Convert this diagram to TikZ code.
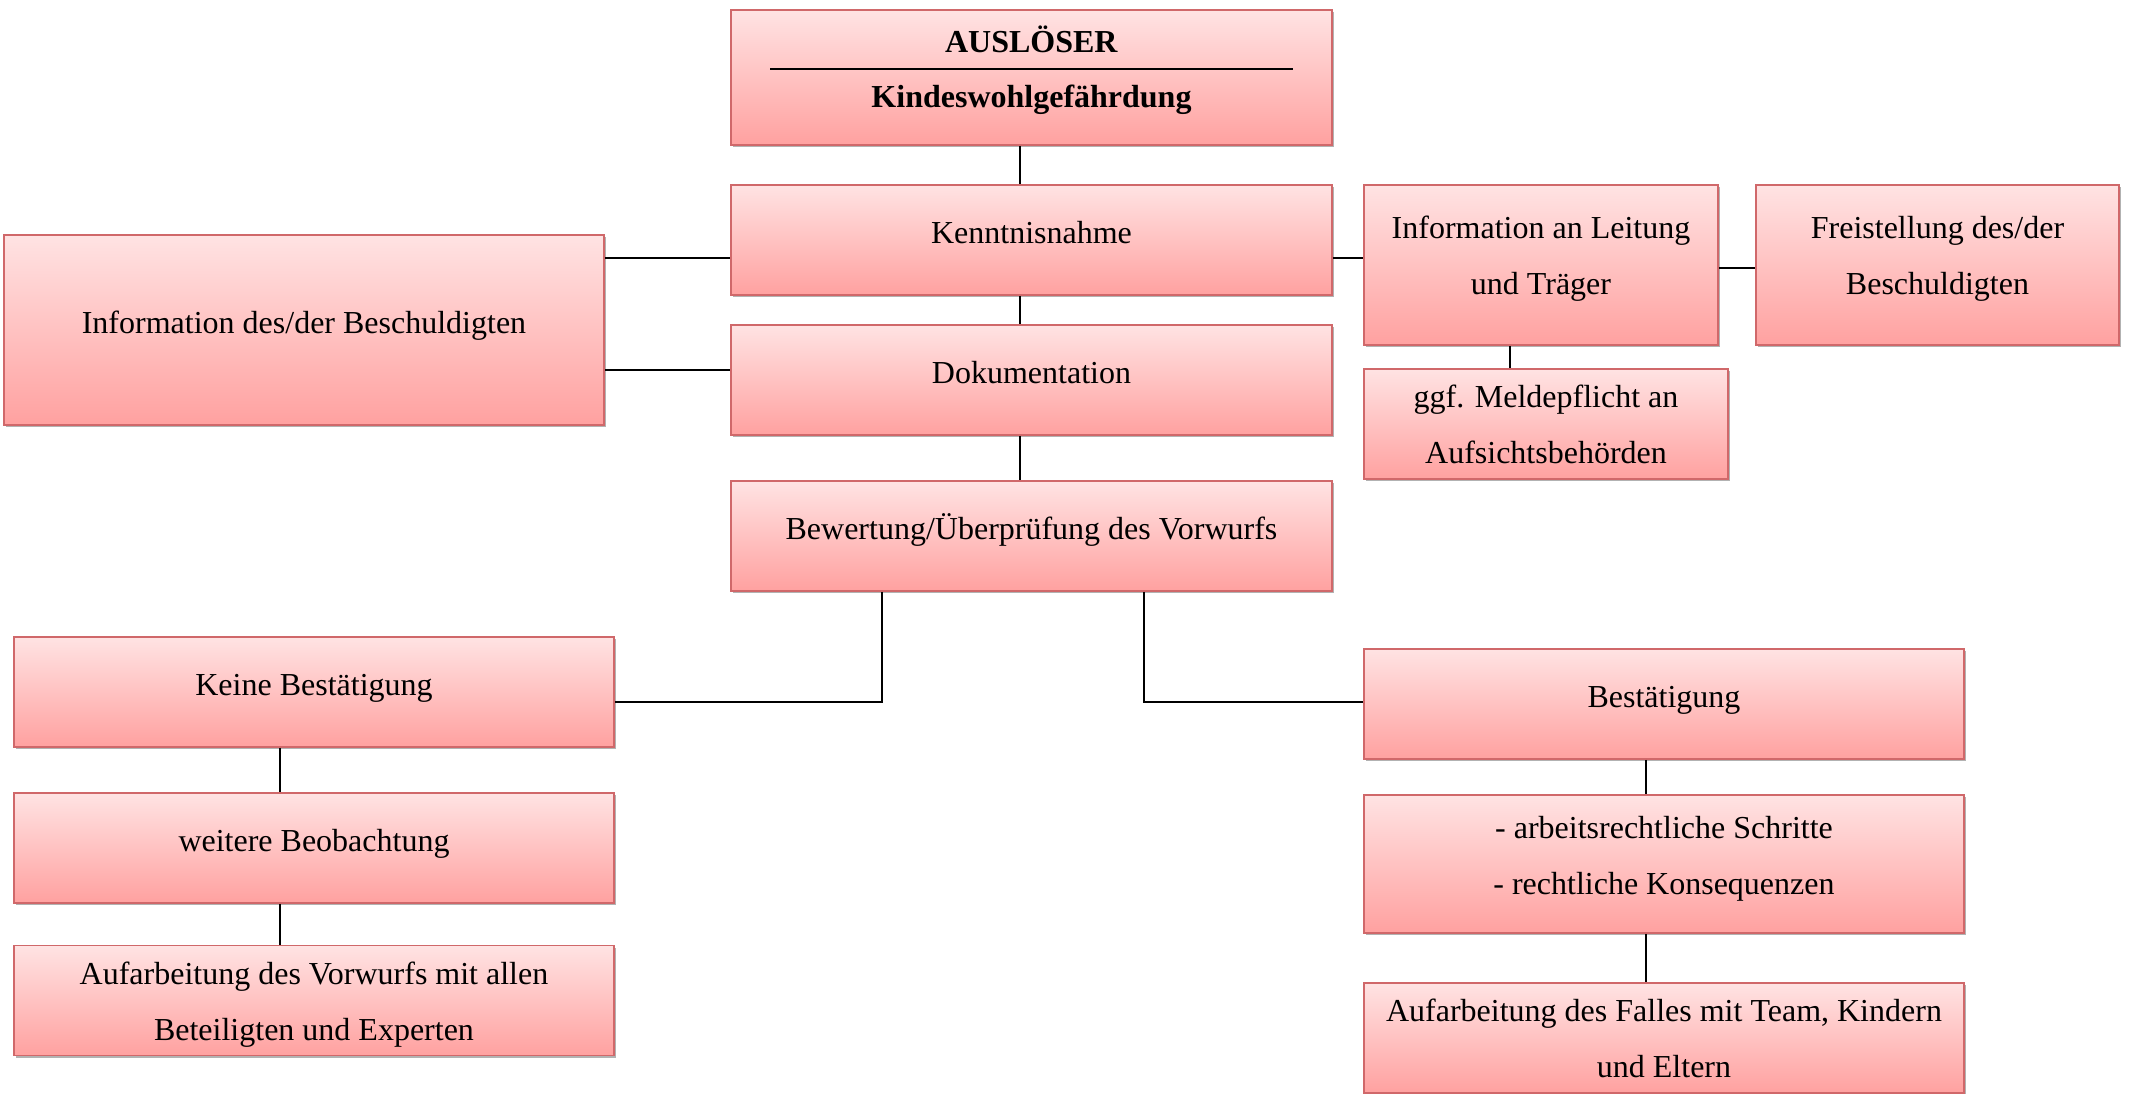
\documentclass[tikz,border=0pt]{standalone}
\usepackage{fontspec}
\setmainfont{Liberation Serif}
\usetikzlibrary{shadows,calc}
\definecolor{pktop}{HTML}{FFE3E3}
\definecolor{pkbot}{HTML}{FFA1A0}
\definecolor{pkline}{HTML}{D0686A}
\begin{document}
\begin{tikzpicture}[x=0.5pt,y=-0.5pt,
  box/.style={draw=pkline, line width=0.8pt, top color=pktop, bottom color=pkbot,
    inner sep=0pt, align=center, font=\fontsize{16}{28}\selectfont,
    text height=10.6pt, text depth=7.6pt,
    drop shadow={shadow xshift=0.8pt, shadow yshift=-1.2pt, opacity=0.3, fill=black}},
  twoline/.style={text height=44pt, text depth=#1},
  con/.style={line width=0.9pt, black}]
\useasboundingbox (0,0) rectangle (2130,1093);

% boxes
\node[box, minimum width=300.5pt, minimum height=67.5pt, twoline=14.5pt] (ausl) at (1031.5,77.5)
  {\textbf{AUSLÖSER}\\[-0.5pt]\textbf{Kindeswohlgefährdung}};
\node[box, minimum width=300.5pt, minimum height=55pt] (kenn) at (1031.5,240) {Kenntnisnahme};
\node[box, minimum width=300.5pt, minimum height=55pt] (doku) at (1031.5,380) {Dokumentation};
\node[box, minimum width=300.5pt, minimum height=55pt] (bew) at (1031.5,536) {Bewertung/Überprüfung des Vorwurfs};
\node[box, minimum width=300pt, minimum height=95pt] (besch) at (304,330) {Information des/der Beschuldigten};
\node[box, minimum width=177pt, minimum height=80pt, twoline=15pt] (leit) at (1541,265) {Information an Leitung\\und Träger};
\node[box, minimum width=181.5pt, minimum height=80pt, twoline=15pt] (frei) at (1937.5,265) {Freistellung des/der\\Beschuldigten};
\node[box, minimum width=182pt, minimum height=55pt, twoline=5pt] (meld) at (1546,424) {ggf. Meldepflicht an\\Aufsichtsbehörden};
\node[box, minimum width=300pt, minimum height=55pt] (keine) at (314,692) {Keine Bestätigung};
\node[box, minimum width=300pt, minimum height=55pt] (weit) at (314,848) {weitere Beobachtung};
\node[box, minimum width=300pt, minimum height=55pt, twoline=4.5pt] (aufv) at (314,1000.5) {Aufarbeitung des Vorwurfs mit allen\\Beteiligten und Experten};
\node[box, minimum width=300pt, minimum height=55pt] (best) at (1664,704) {Bestätigung};
\node[box, minimum width=300pt, minimum height=69pt, twoline=14pt] (arb) at (1664,864) {- arbeitsrechtliche Schritte\\- rechtliche Konsequenzen};
\node[box, minimum width=300pt, minimum height=55pt, twoline=5pt] (auff) at (1664,1038) {Aufarbeitung des Falles mit Team, Kindern\\und Eltern};

% rule inside the trigger box
\draw[line width=1pt] ($(ausl.center)+(-261.5,-8.5)$) -- ($(ausl.center)+(261.5,-8.5)$);

% helper coordinates
\coordinate (vx) at (1020,0);
\coordinate (hy1) at (0,258);
\coordinate (hy2) at (0,370);
\coordinate (hy3) at (0,702);
\coordinate (hy4) at (0,268);
\coordinate (mx) at (1510,0);
\coordinate (bx1) at (882,0);
\coordinate (bx2) at (1144,0);
\coordinate (lx) at (280,0);
\coordinate (rx) at (1646,0);

% connectors
\draw[con] (vx |- ausl.south) -- (vx |- kenn.north);
\draw[con] (vx |- kenn.south) -- (vx |- doku.north);
\draw[con] (vx |- doku.south) -- (vx |- bew.north);
\draw[con] (besch.east |- hy1) -- (kenn.west |- hy1);
\draw[con] (besch.east |- hy2) -- (doku.west |- hy2);
\draw[con] (kenn.east |- hy1) -- (leit.west |- hy1);
\draw[con] (leit.east |- hy4) -- (frei.west |- hy4);
\draw[con] (mx |- leit.south) -- (mx |- meld.north);
\draw[con] (bx1 |- bew.south) -- (bx1 |- hy3) -- (keine.east |- hy3);
\draw[con] (bx2 |- bew.south) -- (bx2 |- hy3) -- (best.west |- hy3);
\draw[con] (lx |- keine.south) -- (lx |- weit.north);
\draw[con] (lx |- weit.south) -- (lx |- aufv.north);
\draw[con] (rx |- best.south) -- (rx |- arb.north);
\draw[con] (rx |- arb.south) -- (rx |- auff.north);
\end{tikzpicture}
\end{document}
